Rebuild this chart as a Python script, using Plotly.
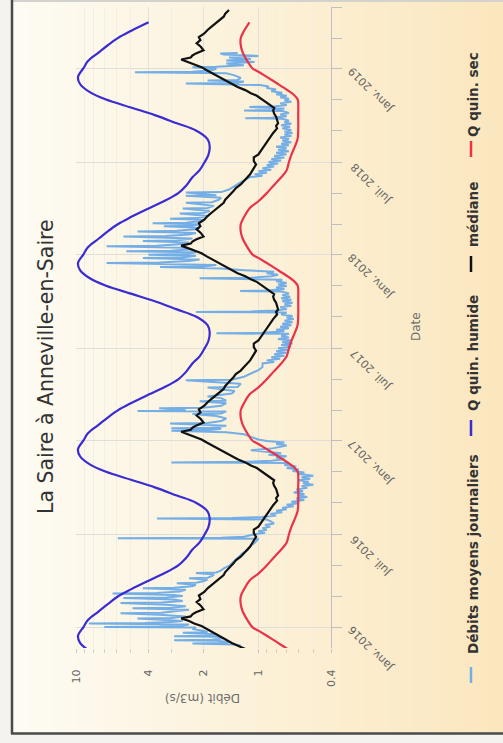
import plotly.graph_objects as go

# ---------------------------------------------------------------- data
# Daily mean discharge (m3/s), La Saire at Anneville-en-Saire
debit_dates = [
    "2015-11-26", "2015-11-28", "2015-11-30", "2015-12-01", "2015-12-03", "2015-12-05", "2015-12-06",
    "2015-12-07", "2015-12-10", "2015-12-13", "2015-12-14", "2015-12-15", "2015-12-18", "2015-12-21",
    "2015-12-22", "2015-12-25", "2015-12-28", "2015-12-31",
    "2016-01-01", "2016-01-02", "2016-01-04", "2016-01-06", "2016-01-08", "2016-01-09", "2016-01-11",
    "2016-01-13", "2016-01-15", "2016-01-18", "2016-01-19", "2016-01-22", "2016-01-25", "2016-01-28",
    "2016-01-29", "2016-02-01", "2016-02-04", "2016-02-07", "2016-02-08", "2016-02-11", "2016-02-14",
    "2016-02-17", "2016-02-18", "2016-02-21", "2016-02-24", "2016-02-27", "2016-02-28", "2016-03-02",
    "2016-03-04", "2016-03-07", "2016-03-08", "2016-03-11", "2016-03-14", "2016-03-17", "2016-03-18",
    "2016-03-21", "2016-03-24", "2016-03-27", "2016-03-28", "2016-03-31", "2016-04-03", "2016-04-06",
    "2016-04-07", "2016-04-10", "2016-04-13", "2016-04-16", "2016-04-17", "2016-04-21", "2016-04-25",
    "2016-04-30", "2016-05-05", "2016-05-10", "2016-05-15", "2016-05-20", "2016-05-25", "2016-05-30",
    "2016-06-04", "2016-06-09", "2016-06-14", "2016-06-19", "2016-06-22", "2016-06-23", "2016-06-24",
    "2016-06-26", "2016-07-01", "2016-07-04", "2016-07-07", "2016-07-10", "2016-07-13", "2016-07-16",
    "2016-07-19", "2016-07-22", "2016-07-26", "2016-07-30", "2016-08-01", "2016-08-02", "2016-08-04",
    "2016-08-07", "2016-08-10", "2016-08-13", "2016-08-16", "2016-08-19", "2016-08-22", "2016-08-25",
    "2016-08-28", "2016-08-31", "2016-09-03", "2016-09-06", "2016-09-09", "2016-09-12", "2016-09-15",
    "2016-09-18", "2016-09-21", "2016-09-24", "2016-09-27", "2016-09-30", "2016-10-03", "2016-10-06",
    "2016-10-09", "2016-10-12", "2016-10-15", "2016-10-18", "2016-10-21", "2016-10-24", "2016-10-27",
    "2016-10-30", "2016-11-02", "2016-11-05", "2016-11-08", "2016-11-11", "2016-11-14", "2016-11-18",
    "2016-11-19", "2016-11-20", "2016-11-22", "2016-11-25", "2016-11-28", "2016-12-01", "2016-12-04",
    "2016-12-07", "2016-12-10", "2016-12-13", "2016-12-16", "2016-12-19", "2016-12-22", "2016-12-25",
    "2016-12-28", "2016-12-31",
    "2017-01-03", "2017-01-08", "2017-01-13", "2017-01-17", "2017-01-20", "2017-01-21", "2017-01-24",
    "2017-01-25", "2017-01-26", "2017-01-30", "2017-02-03", "2017-02-04", "2017-02-08", "2017-02-13",
    "2017-02-18", "2017-02-22", "2017-02-23", "2017-02-27", "2017-02-28", "2017-03-01", "2017-03-05",
    "2017-03-06", "2017-03-10", "2017-03-15", "2017-03-19", "2017-03-20", "2017-03-25", "2017-03-28",
    "2017-04-03", "2017-04-08", "2017-04-15", "2017-04-16", "2017-04-22", "2017-04-29", "2017-04-30",
    "2017-05-06", "2017-05-12", "2017-05-19", "2017-05-25", "2017-06-01", "2017-06-04", "2017-06-07",
    "2017-06-10", "2017-06-13", "2017-06-16", "2017-06-19", "2017-06-22", "2017-06-25", "2017-06-28",
    "2017-07-01", "2017-07-04", "2017-07-07", "2017-07-10", "2017-07-13", "2017-07-16", "2017-07-19",
    "2017-07-22", "2017-07-25", "2017-07-29", "2017-07-30", "2017-07-31", "2017-08-03", "2017-08-06",
    "2017-08-09", "2017-08-12", "2017-08-15", "2017-08-18", "2017-08-21", "2017-08-24", "2017-08-27",
    "2017-08-30", "2017-09-02", "2017-09-05", "2017-09-09", "2017-09-10", "2017-09-11", "2017-09-13",
    "2017-09-16", "2017-09-19", "2017-09-22", "2017-09-25", "2017-09-28", "2017-10-01", "2017-10-04",
    "2017-10-07", "2017-10-10", "2017-10-13", "2017-10-16", "2017-10-20", "2017-10-21", "2017-10-22",
    "2017-10-25", "2017-10-28", "2017-10-31", "2017-11-03", "2017-11-06", "2017-11-09", "2017-11-12",
    "2017-11-15", "2017-11-16", "2017-11-19", "2017-11-22", "2017-11-25", "2017-11-28", "2017-12-01",
    "2017-12-04", "2017-12-07", "2017-12-08", "2017-12-11", "2017-12-15", "2017-12-16", "2017-12-19",
    "2017-12-22", "2017-12-25", "2017-12-26", "2017-12-29", "2017-12-31",
    "2018-01-02", "2018-01-05", "2018-01-07", "2018-01-08", "2018-01-11", "2018-01-14", "2018-01-17",
    "2018-01-18", "2018-01-21", "2018-01-24", "2018-01-27", "2018-01-28", "2018-02-01", "2018-02-05",
    "2018-02-06", "2018-02-09", "2018-02-12", "2018-02-15", "2018-02-16", "2018-02-19", "2018-02-22",
    "2018-02-25", "2018-02-26", "2018-03-01", "2018-03-03", "2018-03-04", "2018-03-07", "2018-03-10",
    "2018-03-12", "2018-03-13", "2018-03-17", "2018-03-22", "2018-03-23", "2018-03-27", "2018-04-01",
    "2018-04-02", "2018-04-06", "2018-04-12", "2018-04-13", "2018-04-18", "2018-04-22", "2018-04-26",
    "2018-04-27", "2018-05-02", "2018-05-03", "2018-05-08", "2018-05-14", "2018-05-20", "2018-05-26",
    "2018-06-01", "2018-06-04", "2018-06-07", "2018-06-10", "2018-06-13", "2018-06-16", "2018-06-19",
    "2018-06-22", "2018-06-25", "2018-06-28", "2018-07-01", "2018-07-04", "2018-07-07", "2018-07-10",
    "2018-07-13", "2018-07-16", "2018-07-19", "2018-07-22", "2018-07-25", "2018-07-28", "2018-07-31",
    "2018-08-03", "2018-08-06", "2018-08-09", "2018-08-12", "2018-08-15", "2018-08-18", "2018-08-21",
    "2018-08-24", "2018-08-27", "2018-08-30", "2018-09-02", "2018-09-05", "2018-09-08", "2018-09-11",
    "2018-09-14", "2018-09-17", "2018-09-20", "2018-09-24", "2018-09-25", "2018-09-26", "2018-09-29",
    "2018-10-02", "2018-10-05", "2018-10-09", "2018-10-10", "2018-10-11", "2018-10-14", "2018-10-17",
    "2018-10-18", "2018-10-21", "2018-10-24", "2018-10-27", "2018-10-30", "2018-11-02", "2018-11-05",
    "2018-11-08", "2018-11-11", "2018-11-14", "2018-11-17", "2018-11-20", "2018-11-23", "2018-11-26",
    "2018-11-29", "2018-12-02", "2018-12-03", "2018-12-06", "2018-12-08", "2018-12-09", "2018-12-13",
    "2018-12-18", "2018-12-22", "2018-12-24", "2018-12-25", "2018-12-28", "2018-12-31",
    "2019-01-03", "2019-01-04", "2019-01-07", "2019-01-10", "2019-01-13", "2019-01-16", "2019-01-19",
    "2019-01-22", "2019-01-25", "2019-01-28", "2019-01-30", "2019-01-31",
]
debit_values = [
    1.25, 1.35, 2.3, 1.5, 1.45, 1.7, 2.9,
    1.8, 1.55, 1.7, 2.9, 1.9, 1.7, 2.6,
    1.9, 2.0, 2.3, 2.2,
    7.0, 3.5, 2.6, 2.4, 8.5, 4.2, 3.0,
    2.6, 3.2, 4.6, 3.0, 2.5, 3.5, 5.7,
    3.4, 2.7, 2.4, 4.9, 3.0, 2.5, 3.2,
    5.7, 3.4, 2.6, 2.9, 5.5, 3.2, 2.6,
    2.9, 6.3, 3.6, 2.7, 2.5, 4.3, 2.9,
    2.3, 2.2, 2.8, 2.2, 2.0, 1.9, 2.4,
    1.9, 1.8, 1.75, 2.2, 1.7, 1.6, 1.55,
    1.45, 1.4, 1.35, 1.3, 1.25, 1.22, 1.15,
    1.12, 1.1, 1.05, 1.02, 1.0, 5.9, 1.6,
    1.2, 1.05, 0.92, 1.0, 0.9, 0.95, 0.86,
    0.92, 0.82, 0.85, 0.9, 3.6, 1.4, 0.95,
    0.8, 0.86, 0.74, 0.8, 0.7, 0.74, 0.64,
    0.7, 0.6, 0.66, 0.56, 0.62, 0.54, 0.6,
    0.56, 0.64, 0.57, 0.62, 0.54, 0.58, 0.5,
    0.57, 0.53, 0.6, 0.52, 0.58, 0.5, 0.6,
    0.56, 0.65, 0.6, 0.7, 0.62, 0.72, 0.68,
    3.0, 1.2, 0.85, 0.72, 0.8, 0.7, 0.88,
    0.75, 0.95, 1.1, 0.85, 0.75, 0.7, 0.8,
    0.72, 0.9,
    1.0, 1.1, 1.2, 1.5, 3.0, 1.9, 1.6,
    3.0, 1.8, 1.5, 3.05, 1.9, 1.6, 1.5,
    1.7, 2.3, 1.6, 1.5, 4.6, 2.5, 3.5,
    2.0, 1.6, 1.5, 2.1, 1.5, 1.6, 1.9,
    1.4, 1.35, 1.9, 1.3, 1.25, 2.5, 1.4,
    1.2, 1.1, 1.0, 0.95, 0.95, 0.82, 0.9,
    0.76, 0.85, 0.72, 0.82, 0.7, 0.8, 0.68,
    0.78, 0.66, 0.75, 0.65, 0.74, 0.66, 0.78,
    0.68, 0.75, 0.68, 1.7, 0.95, 0.72, 0.8,
    0.68, 0.76, 0.66, 0.74, 0.65, 0.72, 0.64,
    0.7, 0.65, 0.75, 0.7, 2.2, 1.1, 0.8,
    0.7, 0.76, 0.66, 0.72, 0.65, 0.74, 0.66,
    0.75, 0.67, 0.74, 0.68, 0.75, 1.26, 0.9,
    0.72, 0.8, 0.7, 0.78, 0.7, 0.8, 0.74,
    2.1, 1.1, 0.85, 0.78, 0.9, 0.82, 1.2,
    1.6, 3.46, 2.0, 1.7, 6.8, 3.5, 2.4,
    2.1, 4.3, 2.6, 2.2, 4.0,
    2.4, 2.2, 5.3, 3.0, 2.3, 2.6, 6.8,
    3.6, 2.6, 2.4, 4.3, 2.8, 2.3, 5.5,
    3.2, 2.4, 2.2, 4.6, 2.8, 2.2, 2.1,
    3.3, 2.3, 2.1, 3.8, 2.5, 2.1, 2.0,
    3.05, 2.2, 1.9, 2.7, 2.0, 1.85, 2.6,
    1.9, 1.75, 2.5, 1.8, 1.65, 1.6, 2.5,
    1.7, 2.5, 1.6, 1.45, 1.35, 1.28, 1.2,
    1.12, 0.95, 1.05, 0.9, 1.0, 0.85, 0.95,
    0.82, 0.9, 0.78, 0.88, 0.75, 0.85, 0.72,
    0.82, 0.7, 0.8, 0.68, 0.78, 0.7, 0.8,
    0.68, 0.75, 0.66, 0.74, 0.68, 0.76, 0.66,
    0.72, 0.65, 0.72, 0.66, 0.74, 0.67, 0.75,
    0.66, 0.72, 0.68, 0.74, 1.18, 0.85, 0.7,
    0.76, 0.68, 0.74, 1.2, 0.85, 0.72, 1.12,
    0.82, 0.7, 0.76, 0.66, 0.72, 0.68, 0.76,
    0.7, 0.8, 0.74, 0.85, 0.8, 0.9, 0.88,
    0.98, 2.5, 1.3, 1.2, 1.9, 1.3, 1.25,
    1.35, 1.5, 4.75, 2.3, 1.8, 1.7,
    2.3, 1.7, 1.2, 1.5, 1.05, 1.5, 1.1,
    1.45, 1.0, 1.55, 1.62, 1.3,
]
assert len(debit_dates) == len(debit_values)

# Seasonal reference curves (one calendar year, repeated every year)
humide_md = ["01-01", "01-15", "02-01", "02-15", "03-01", "03-15", "04-01", "04-15", "05-01",
             "05-15", "06-01", "06-15", "07-01", "07-15", "08-01", "08-15", "09-01", "09-15",
             "10-01", "10-15", "11-01", "11-15", "12-01", "12-15"]
humide_val = [9.1, 8.6, 7.5, 6.7, 5.9, 5.0, 4.0, 3.3, 2.75,
              2.5, 2.3, 2.1, 1.97, 1.88, 1.85, 1.9, 2.2, 2.8,
              3.7, 4.9, 6.9, 8.4, 9.5, 9.75]

mediane_md = ["01-03", "01-08", "01-13", "01-18", "01-22", "01-26", "01-30", "02-05", "02-12",
              "02-19", "02-25", "03-03", "03-10", "03-17", "03-24", "04-01", "04-06", "04-12",
              "04-18", "04-25", "05-01", "05-05", "05-11", "05-18", "05-25", "06-01", "06-07",
              "06-14", "06-20", "06-26", "07-03", "07-10", "07-16", "07-23", "07-29", "08-05",
              "08-12", "08-20", "08-27", "09-05", "09-10", "09-15", "09-21", "09-28", "10-04",
              "10-10", "10-15", "10-20", "10-26", "11-01", "11-08", "11-13", "11-19", "11-25",
              "12-01", "12-08", "12-15", "12-22", "12-28"]
mediane_val = [2.05, 2.25, 2.4, 2.65, 2.35, 2.3, 2.2, 2.0, 2.07,
               2.18, 2.08, 2.12, 1.98, 1.9, 1.8, 1.68, 1.63, 1.55,
               1.52, 1.45, 1.4, 1.37, 1.33, 1.25, 1.2, 1.15, 1.11,
               1.08, 1.05, 1.03, 1.06, 1.06, 1.0, 0.97, 0.94, 0.91,
               0.89, 0.85, 0.83, 0.79, 0.8, 0.78, 0.79, 0.8, 0.82,
               0.83, 0.82, 0.86, 0.9, 0.96, 1.02, 1.1, 1.18, 1.3,
               1.4, 1.52, 1.65, 1.8, 1.92]

sec_md = ["01-01", "01-15", "02-01", "02-15", "03-01", "03-15", "04-01", "04-15", "05-01",
          "05-15", "06-01", "06-15", "07-01", "07-15", "08-01", "08-15", "09-01", "10-01",
          "10-25", "11-01", "11-10", "11-20", "12-01", "12-15", "12-25"]
sec_val = [1.08, 1.15, 1.22, 1.25, 1.25, 1.2, 1.12, 1.0, 0.9,
           0.83, 0.75, 0.7, 0.68, 0.66, 0.63, 0.61, 0.605, 0.605,
           0.605, 0.61, 0.64, 0.7, 0.78, 0.9, 1.0]

# Axis ticks
debit_ticks = [10, 4, 2, 1, 0.4]
debit_minor = [9, 8, 7, 6, 5, 3, 0.9, 0.8, 0.7, 0.6, 0.5]
date_ticks = ["2016-01-01", "2016-07-01", "2017-01-01", "2017-07-01",
              "2018-01-01", "2018-07-01", "2019-01-01"]
date_labels = ["Janv. 2016", "Juil. 2016", "Janv. 2017", "Juil. 2017",
               "Janv. 2018", "Juil. 2018", "Janv. 2019"]

legend_names = ["Débits moyens journaliers", "Q quin. humide", "médiane", "Q quin. sec"]
colors = ["#74aee6", "#3a2bd3", "#111111", "#e8334a"]


def repeat_years(md, vals, start, end):
    """Lay a one-year seasonal curve over every year of the period."""
    xs, ys = [], []
    for yr in range(2015, 2020):
        for m, v in zip(md, vals):
            d = f"{yr}-{m}"
            if start <= d <= end:
                xs.append(d)
                ys.append(v)
    return xs, ys


hum_d, hum_v = repeat_years(humide_md, humide_val, "2015-11-01", "2019-04-01")
med_d, med_v = repeat_years(mediane_md, mediane_val, "2015-11-15", "2019-04-30")
sec_d, sec_v = repeat_years(sec_md, sec_val, "2015-11-01", "2019-04-01")

# ---------------------------------------------------------------- layout
W, H = 503, 743
L, R, T, B = 76, 331, 7, 648          # plot box in pixels


def px(x):
    return (x - L) / (R - L)


def py(y):
    return (B - y) / (B - T)


fig = go.Figure()

fig.add_trace(go.Scatter(x=debit_values, y=debit_dates, mode="lines",
                         line=dict(color=colors[0], width=2), name=legend_names[0]))
fig.add_trace(go.Scatter(x=hum_v, y=hum_d, mode="lines", line_shape="spline",
                         line=dict(color=colors[1], width=2.2), name=legend_names[1]))
fig.add_trace(go.Scatter(x=med_v, y=med_d, mode="lines",
                         line=dict(color=colors[2], width=2.2), name=legend_names[2]))
fig.add_trace(go.Scatter(x=sec_v, y=sec_d, mode="lines", line_shape="spline",
                         line=dict(color=colors[3], width=2.2), name=legend_names[3]))

shapes = []
# warm page gradient, light on the left, warmer on the right
x0, x1 = 12, W
n = 60
c_left = (253, 251, 243)
c_right = (251, 231, 190)
for i in range(n):
    t = i / (n - 1)
    c = tuple(round(a + (b - a) * t) for a, b in zip(c_left, c_right))
    xa = x0 + (x1 - x0) * i / n
    xb = x0 + (x1 - x0) * (i + 1) / n + 0.5
    shapes.append(dict(type="rect", xref="paper", yref="paper", layer="below",
                       x0=px(xa), x1=px(xb), y0=py(734), y1=py(-2),
                       fillcolor="rgb(%d,%d,%d)" % c, line=dict(width=0)))
# frame
shapes.append(dict(type="line", xref="paper", yref="paper", x0=px(12), x1=px(503),
                   y0=py(1), y1=py(1), line=dict(color="#d4d2cc", width=2)))
shapes.append(dict(type="line", xref="paper", yref="paper", x0=px(12), x1=px(12),
                   y0=py(0), y1=py(734), line=dict(color="#4a4a4a", width=2.5)))
shapes.append(dict(type="line", xref="paper", yref="paper", x0=px(11), x1=px(503),
                   y0=py(733.5), y1=py(733.5), line=dict(color="#4a4a4a", width=2.5)))

# legend, drawn vertically along the right side
leg_sym = [(667, 683), (420, 436), (256, 272), (141, 157)]
leg_txt = [555, 353, 215, 95]
annotations = []
for name, col, (ya, yb), yc in zip(legend_names, colors, leg_sym, leg_txt):
    shapes.append(dict(type="line", xref="paper", yref="paper", x0=px(471), x1=px(471),
                       y0=py(ya), y1=py(yb), line=dict(color=col, width=2.5)))
    annotations.append(dict(xref="paper", yref="paper", x=px(473), y=py(yc), text="<b>%s</b>" % name,
                            textangle=-90, showarrow=False, xanchor="center", yanchor="middle",
                            font=dict(family="DejaVu Sans", size=13.5, color="#333333")))

# date labels, slanted
for d, lab in zip(date_ticks, date_labels):
    annotations.append(dict(xref="paper", yref="y", x=px(371), y=d, yshift=-22, text=lab,
                            textangle=-135, showarrow=False, xanchor="center", yanchor="middle",
                            font=dict(family="DejaVu Sans", size=11, color="#666666")))

annotations.append(dict(xref="paper", yref="paper", x=px(32), y=py(367),
                        text="La Saire à Anneville-en-Saire", textangle=-90, showarrow=False,
                        font=dict(family="DejaVu Sans", size=20.5, color="#333333")))
annotations.append(dict(xref="paper", yref="paper", x=px(203), y=py(707), text="Débit (m3/s)",
                        textangle=180, showarrow=False,
                        font=dict(family="DejaVu Sans", size=12, color="#6d6d6d")))
annotations.append(dict(xref="paper", yref="paper", x=px(425), y=py(327), text="Date",
                        textangle=-90, showarrow=False,
                        font=dict(family="DejaVu Sans", size=12, color="#6d6d6d")))

fig.update_layout(
    width=W, height=H,
    margin=dict(l=L, r=W - R, t=T, b=H - B),
    paper_bgcolor="#f4f3ef", plot_bgcolor="rgba(0,0,0,0)",
    showlegend=False,
    shapes=shapes, annotations=annotations,
    xaxis=dict(type="log", range=[1, -0.39794], tickmode="array", tickvals=debit_ticks,
               ticktext=[str(v) for v in debit_ticks], tickangle=-90,
               tickfont=dict(family="DejaVu Sans", size=11, color="#666666"),
               showgrid=True, gridcolor="#e4e2da", gridwidth=1, zeroline=False,
               ticks="outside", ticklen=4, tickcolor="#c8c8c8", showline=False,
               ticklabelstandoff=12,
               minor=dict(tickmode="array", tickvals=debit_minor, showgrid=True,
                          gridcolor="#f1eee4", ticks="outside", ticklen=4, tickcolor="#d0d0d0")),
    yaxis=dict(type="date", range=["2015-11-21", "2019-05-01"], side="right",
               tickmode="array", tickvals=date_ticks, showticklabels=False,
               showgrid=True, gridcolor="#e0ded8", gridwidth=1, zeroline=False,
               showline=True, linecolor="#c0c0c0", linewidth=1,
               ticks="outside", ticklen=10, tickcolor="#c0c0c0",
               minor=dict(dtick="M2", tick0="2016-01-01", ticks="outside", ticklen=10,
                          tickcolor="#c0c0c0", showgrid=False)),
)

fig.write_html("out.html")
